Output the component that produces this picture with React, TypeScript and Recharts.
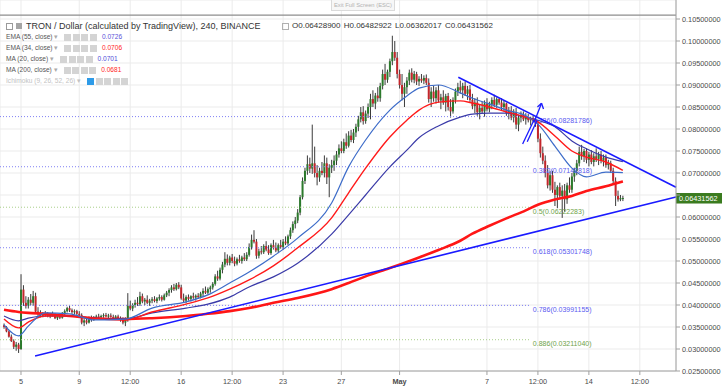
import React from 'react';
import { ComposedChart, Bar, Line, XAxis, YAxis, CartesianGrid, ReferenceLine } from 'recharts';

// TRXUSD 4h candles, [open, high, low, close] in units of 0.0001
// index 0 = Apr 5 00:00, one step = 4 hours
const aprilA = [
  [354, 358, 346, 350],
  [350, 352, 338, 340], [340, 342, 326, 328], [328, 333, 316, 318], [318, 322, 300, 305], [305, 316, 296, 310], [310, 314, 291, 300],
  [300, 470, 298, 435], [435, 445, 398, 405], [405, 420, 392, 398], [398, 418, 392, 412], [412, 425, 400, 405], [405, 432, 398, 420],
  [420, 428, 380, 385], [385, 395, 375, 380], [380, 388, 372, 376], [376, 384, 372, 380], [380, 386, 374, 378], [378, 384, 372, 375],
  [375, 382, 370, 379], [379, 385, 374, 376], [376, 381, 368, 370], [370, 378, 366, 374], [374, 380, 368, 371], [371, 384, 369, 382],
  [382, 390, 377, 386], [386, 396, 383, 393], [393, 398, 384, 388], [388, 392, 380, 384], [384, 390, 378, 386], [386, 389, 376, 380],
];
const aprilB = [
  [380, 386, 372, 377], [377, 381, 356, 360], [360, 368, 352, 365], [365, 372, 356, 360], [360, 374, 358, 370], [370, 376, 362, 366],
  [366, 375, 364, 372], [372, 378, 368, 374], [374, 380, 370, 373], [373, 378, 368, 375], [375, 381, 371, 377], [377, 382, 372, 374],
  [374, 380, 370, 376], [376, 381, 371, 373], [373, 378, 366, 370], [370, 377, 366, 374], [374, 378, 366, 368], [368, 374, 362, 366],
  [366, 372, 356, 360], [360, 372, 352, 368], [368, 427, 362, 398], [398, 410, 388, 392], [392, 404, 386, 400], [400, 412, 394, 405],
  [405, 418, 398, 402], [402, 430, 398, 420], [420, 426, 404, 408], [408, 416, 400, 412], [412, 422, 402, 405], [405, 414, 398, 410],
  [410, 418, 404, 413], [413, 420, 406, 409], [409, 418, 404, 415], [415, 424, 410, 418], [418, 422, 408, 412], [412, 426, 410, 422],
  [422, 432, 418, 428], [428, 438, 420, 434], [434, 445, 428, 440], [440, 448, 432, 436], [436, 450, 433, 446], [446, 452, 436, 440],
];
const aprilC = [
  [440, 446, 412, 415], [415, 426, 405, 410], [410, 422, 404, 418], [418, 424, 410, 414], [414, 422, 408, 420], [420, 428, 414, 417],
  [417, 424, 410, 421], [421, 427, 414, 418], [418, 430, 415, 426], [426, 438, 420, 432], [432, 442, 425, 428], [428, 440, 424, 436],
  [436, 444, 428, 440], [440, 452, 435, 448], [448, 470, 444, 465], [465, 478, 455, 460], [460, 485, 456, 480], [480, 498, 472, 492],
  [492, 520, 486, 505], [505, 515, 490, 496], [496, 512, 490, 508], [508, 516, 495, 500], [500, 510, 488, 494], [494, 508, 490, 504],
  [504, 514, 496, 500], [500, 512, 494, 508], [508, 518, 500, 504], [504, 520, 500, 514], [514, 540, 510, 532], [532, 560, 526, 548],
  [548, 570, 540, 544], [544, 550, 505, 512], [512, 528, 506, 522], [522, 534, 515, 520], [520, 538, 516, 534], [534, 545, 522, 526],
  [526, 536, 514, 518], [518, 540, 514, 536], [536, 548, 526, 530], [530, 542, 520, 524], [524, 540, 518, 536], [536, 548, 528, 532],
];
const aprilD = [
  [532, 550, 526, 544], [544, 556, 536, 540], [540, 560, 536, 556], [556, 576, 550, 570], [570, 590, 564, 584], [584, 600, 574, 592],
  [592, 618, 586, 610], [610, 650, 604, 645], [645, 690, 640, 682], [682, 712, 675, 705], [705, 740, 696, 720], [720, 735, 700, 710],
  [710, 810, 698, 722], [722, 760, 690, 700], [700, 718, 672, 690], [690, 712, 680, 705], [705, 725, 695, 700], [700, 740, 690, 722],
  [722, 735, 675, 690], [690, 720, 645, 712], [712, 730, 700, 718], [718, 740, 705, 728], [728, 750, 718, 742], [742, 765, 735, 756],
  [756, 772, 745, 750], [750, 778, 745, 770], [770, 790, 755, 762], [762, 795, 758, 785], [785, 798, 770, 775], [775, 800, 768, 792],
  [792, 812, 782, 805], [805, 830, 795, 822], [822, 850, 815, 838], [838, 852, 810, 818], [818, 842, 812, 835], [835, 858, 825, 850],
  [850, 880, 822, 868], [868, 888, 850, 858], [858, 882, 845, 876], [876, 895, 862, 870], [870, 905, 862, 898], [898, 935, 890, 925],
  [925, 948, 900, 912], [912, 935, 905, 930], [930, 960, 918, 954], [954, 1012, 945, 975], [975, 1000, 955, 962], [962, 975, 915, 925],
];
const mayA = [
  [925, 935, 892, 900], [900, 925, 865, 880], [880, 905, 850, 895], [895, 918, 880, 910], [910, 935, 900, 928], [928, 938, 906, 912],
  [912, 932, 904, 925], [925, 930, 900, 908], [908, 920, 898, 914], [914, 925, 905, 910], [910, 922, 902, 916], [916, 924, 900, 905],
  [905, 915, 860, 868], [868, 895, 850, 885], [885, 898, 862, 870], [870, 895, 858, 888], [888, 900, 860, 865], [865, 880, 845, 872],
  [872, 888, 855, 860], [860, 880, 840, 875], [875, 882, 842, 850], [850, 868, 826, 840], [840, 872, 835, 866], [866, 892, 858, 885],
  [885, 905, 875, 895], [895, 910, 880, 888], [888, 905, 870, 898], [898, 908, 875, 880], [880, 898, 866, 890], [890, 900, 860, 866],
  [866, 880, 845, 852], [852, 870, 836, 860], [860, 872, 830, 838], [838, 856, 822, 848], [848, 862, 835, 840], [840, 865, 828, 858],
  [858, 870, 840, 845], [845, 862, 838, 856], [856, 872, 845, 866], [866, 878, 850, 855], [855, 872, 848, 868], [868, 870, 855, 860],
  [860, 870, 842, 850], [850, 866, 840, 858], [858, 860, 830, 836],
];
const mayB = [
  [836, 850, 822, 842], [842, 852, 820, 826], [826, 845, 815, 838], [838, 848, 800, 810], [810, 832, 795, 826], [826, 840, 815, 832],
  [832, 840, 818, 822], [822, 836, 810, 828], [828, 834, 815, 820], [820, 828, 808, 825], [825, 830, 815, 818], [818, 826, 805, 812],
  [812, 818, 770, 778], [778, 790, 735, 745], [745, 760, 720, 728], [728, 740, 690, 700], [700, 718, 665, 672], [672, 705, 660, 695],
  [695, 705, 655, 662], [662, 680, 625, 650], [650, 672, 620, 668], [668, 678, 640, 648], [648, 672, 598, 660], [660, 675, 612, 640],
  [640, 678, 630, 672], [672, 690, 655, 662], [662, 700, 655, 692], [692, 712, 680, 705], [705, 730, 695, 722], [722, 760, 715, 748],
  [748, 764, 730, 738], [738, 755, 725, 750], [750, 756, 722, 730], [730, 748, 715, 742], [742, 752, 720, 725], [725, 745, 715, 738],
  [738, 756, 725, 732], [732, 748, 718, 742], [742, 750, 722, 728], [728, 742, 715, 735], [735, 742, 712, 718], [718, 730, 708, 722],
  [722, 728, 700, 705], [705, 712, 675, 682], [682, 690, 625, 648], [648, 660, 635, 640], [640, 650, 636, 643], [642.89, 648.2922, 636.2017, 643.1562],
];
const candleBlocks: [number, number[][]][] = [
  [-7, aprilA], [24, aprilB], [66, aprilC], [108, aprilD], [156, mayA], [201, mayB],
];

// moving averages at these candle indexes (same units)
const maIndex = [-7, -1, 3, 10, 20, 30, 43, 54, 68, 77, 86, 94, 104, 114, 128, 135, 142, 152, 159, 164, 172, 181, 186, 193, 200, 208, 213, 220, 227, 233, 241, 248];
const ma200 = [389, 384, 382, 380, 375, 370, 368, 370, 375, 380, 386, 393, 405, 416, 436, 450, 465, 484, 498, 508, 525, 546, 562, 580, 597, 615, 628, 640, 648, 659, 670, 681];
const ema55 = [375, 364, 370, 375, 375, 370, 368, 382, 393, 402, 418, 441, 464, 495, 561, 605, 650, 714, 752, 780, 807, 827, 834, 836, 836, 827, 820, 805, 773, 755, 736, 726];
const ema34 = [368, 348, 361, 375, 375, 370, 366, 384, 402, 416, 436, 457, 489, 530, 598, 655, 711, 782, 820, 843, 861, 864, 859, 850, 839, 827, 816, 784, 750, 736, 725, 706];
const ma20 = [355, 330, 352, 382, 380, 366, 368, 393, 407, 423, 450, 475, 511, 552, 632, 714, 775, 843, 875, 893, 900, 882, 870, 857, 843, 830, 811, 761, 711, 691, 702, 701];

const dayTicks = [0, 24, 45, 66, 87, 108, 132, 156, 192, 213, 234, 255];
const dayLabels = ['5', '9', '12:00', '16', '12:00', '23', '27', 'May', '7', '12:00', '14', '12:00'];
const priceTicks = [0.025, 0.03, 0.035, 0.04, 0.045, 0.05, 0.055, 0.06, 0.065, 0.07, 0.075, 0.08, 0.085, 0.09, 0.095, 0.1, 0.105];

const fibRatios = ['0.236', '0.382', '0.5', '0.618', '0.786', '0.886'];
const fibPrices = [0.08281786, 0.07142818, 0.06222283, 0.05301748, 0.03991155, 0.0321104];
const fibEnd = 210.1;

// drawn trend lines [index, price]
const supportLine = [[5.8, 0.0284], [269.9, 0.06455]];
const resistanceLine = [[180.2, 0.09175], [269.9, 0.06677]];
const arrowStrokes = [
  [[206.7, 0.07659], [211.4, 0.08205]],
  [[208.6, 0.07711], [212.7, 0.08205]],
  [[211.5, 0.08166], [214.5, 0.08584]],
  [[214.5, 0.08584], [212.8, 0.085]],
  [[214.5, 0.08584], [215.3, 0.08455]],
];

const legendRows = [
  { name: 'EMA (55, close)', value: '0.0726', color: '#5a52d8' },
  { name: 'EMA (34, close)', value: '0.0706', color: '#ff1e1e' },
  { name: 'MA (20, close)', value: '0.0701', color: '#4d4ed8' },
  { name: 'MA (200, close)', value: '0.0681', color: '#ff1e1e' },
];

const xMin = -8.65;
const xMax = 269.9;
const yMin = 0.025;
const yMax = 0.10932;
const paneTop = 0.1059;

const rows: any[] = candleBlocks.flatMap(([start, list]) =>
  list.map((c, k) => ({ t: start + k, o: c[0] / 1e4, h: c[1] / 1e4, l: c[2] / 1e4, c: c[3] / 1e4 }))
);
maIndex.forEach((t, k) => {
  const r = rows.find((d) => d.t === t);
  if (!r) return;
  r.ma200 = ma200[k] / 1e4;
  r.ema55 = ema55[k] / 1e4;
  r.ema34 = ema34[k] / 1e4;
  r.ma20 = ma20[k] / 1e4;
});
const last = rows[rows.length - 1];

const FONT = '"Liberation Sans", Arial, sans-serif';

function Candle(props: any) {
  const { x, y, width, height, payload } = props;
  if (!payload || y == null) return null;
  const top = Math.min(y, y + height);
  const bot = Math.max(y, y + height);
  const cx = x + width / 2;
  const span = payload.h - payload.l || 1e-9;
  const py = (v: number) => top + ((payload.h - v) / span) * (bot - top);
  const up = payload.c >= payload.o;
  const b1 = py(Math.max(payload.o, payload.c));
  const b2 = py(Math.min(payload.o, payload.c));
  return (
    <g>
      <rect x={cx - 0.5} y={top} width={1} height={Math.max(bot - top, 1)} fill="#3b3b3b" />
      <rect x={cx - 1} y={b1} width={2} height={Math.max(b2 - b1, 1)} fill={up ? '#2c7a2c' : '#c4262b'} />
    </g>
  );
}

function FibTag({ viewBox, text, color }: any) {
  if (!viewBox) return null;
  return (
    <text x={viewBox.x + viewBox.width + 2} y={viewBox.y + 6.5} fontSize={7} fill={color}>
      {text}
    </text>
  );
}

function PriceTag({ viewBox }: any) {
  if (!viewBox) return null;
  const x = viewBox.x + viewBox.width;
  const y = viewBox.y;
  return (
    <g>
      <rect x={x} y={y - 5} width={46} height={10.5} fill="#3a7b1f" />
      <text x={x + 3} y={y + 2.7} fontSize={7.3} fill="#ffffff">
        {last.c.toFixed(8)}
      </text>
    </g>
  );
}

function DayTick({ x, y, payload }: any) {
  const label = dayLabels[dayTicks.indexOf(payload.value)];
  return (
    <text x={x} y={y + 7} textAnchor="middle" fontSize={7.3} fill="#4a4a4a" fontWeight={label === 'May' ? 700 : 400}>
      {label}
    </text>
  );
}

// the last-price tag sits on top of the 0.065 label, so that one is left blank
const priceLabel = (v: number) => (Math.abs(v - last.c) < 0.002 ? '' : v.toFixed(8));

function IconBoxes({ n, first }: { n: number; first?: string }) {
  return (
    <span style={{ display: 'inline-flex', gap: 1.5, marginLeft: 6, verticalAlign: 'middle' }}>
      {Array.from({ length: n }, (_, k) => (
        <span
          key={k}
          style={{ width: 7, height: 7, background: k === 0 && first ? first : '#d4d4d4', display: 'inline-block' }}
        />
      ))}
    </span>
  );
}

export default function App() {
  const fibColor = (r: string) => (r === '0.5' || r === '0.886' ? '#6fa34a' : '#5a5af0');
  const fibStroke = (r: string) => (r === '0.5' || r === '0.886' ? '#a9cf8a' : '#8080f4');

  return (
    <div style={{ position: 'absolute', left: 0, top: 0, width: 726, height: 390, background: '#fff', fontFamily: FONT, overflow: 'hidden' }}>
      <ComposedChart width={726} height={390} data={rows} margin={{ top: 0, right: 0, bottom: 0, left: 0 }} style={{ fontFamily: FONT }}>
        <CartesianGrid stroke="#ebebeb" />
        <XAxis
          type="number"
          dataKey="t"
          domain={[xMin, xMax]}
          allowDataOverflow
          ticks={dayTicks}
          interval={0}
          height={19}
          tickSize={4}
          tick={<DayTick />}
          axisLine={{ stroke: '#a0a0a0' }}
          tickLine={{ stroke: '#a0a0a0' }}
        />
        <YAxis
          orientation="right"
          width={50}
          domain={[yMin, yMax]}
          allowDataOverflow
          ticks={priceTicks}
          interval={0}
          tickSize={4}
          tickFormatter={priceLabel}
          tick={{ fontSize: 7.3, fill: '#4a4a4a' }}
          axisLine={{ stroke: '#a0a0a0' }}
          tickLine={{ stroke: '#a0a0a0' }}
        />
        {fibRatios.map((r, k) => (
          <ReferenceLine
            key={r}
            segment={[{ x: xMin, y: fibPrices[k] }, { x: fibEnd, y: fibPrices[k] }]}
            stroke={fibStroke(r)}
            strokeDasharray="1 2"
            ifOverflow="visible"
            label={<FibTag text={`${r}(${fibPrices[k].toFixed(8)})`} color={fibColor(r)} />}
          />
        ))}
        <Bar dataKey={(d: any) => [d.l, d.h]} shape={(p: any) => <Candle {...p} />} isAnimationActive={false} />
        <Line dataKey="ma200" type="monotone" stroke="#ff1616" strokeWidth={2.6} dot={false} activeDot={false} connectNulls isAnimationActive={false} />
        <Line dataKey="ema55" type="monotone" stroke="#3a3aa8" strokeWidth={1.2} dot={false} activeDot={false} connectNulls isAnimationActive={false} />
        <Line dataKey="ema34" type="monotone" stroke="#ff1a1a" strokeWidth={1.4} dot={false} activeDot={false} connectNulls isAnimationActive={false} />
        <Line dataKey="ma20" type="monotone" stroke="#3d6cc9" strokeWidth={1.2} dot={false} activeDot={false} connectNulls isAnimationActive={false} />
        {[supportLine, resistanceLine].map((ln, k) => (
          <ReferenceLine
            key={`tl${k}`}
            segment={[{ x: ln[0][0], y: ln[0][1] }, { x: ln[1][0], y: ln[1][1] }]}
            stroke="#1a1aff"
            strokeWidth={1.6}
            ifOverflow="visible"
          />
        ))}
        {arrowStrokes.map((s, k) => (
          <ReferenceLine
            key={`ar${k}`}
            segment={[{ x: s[0][0], y: s[0][1] }, { x: s[1][0], y: s[1][1] }]}
            stroke="#1a1aff"
            strokeWidth={1.3}
            ifOverflow="visible"
          />
        ))}
        <ReferenceLine y={paneTop} stroke="#8e8e8e" strokeWidth={1.2} />
        <ReferenceLine y={last.c} stroke="none" label={<PriceTag />} />
      </ComposedChart>

      <div style={{ position: 'absolute', left: 331, top: -1, width: 62, height: 10, border: '1px solid #dadada', background: '#f7f7f7', fontSize: 5.8, lineHeight: '10px', color: '#b3b3b3', textAlign: 'center' }}>
        Exit Full Screen (ESC)
      </div>

      <div style={{ position: 'absolute', left: 6, top: 23, width: 5, height: 5, border: '1px solid #9a9a9a' }} />
      <div style={{ position: 'absolute', left: 16, top: 23, width: 6, height: 6, background: '#a5a5a5' }} />
      <div style={{ position: 'absolute', left: 26, top: 20, fontSize: 9, lineHeight: '12px', color: '#333', whiteSpace: 'nowrap' }}>
        TRON / Dollar (calculated by TradingView), 240, BINANCE
      </div>
      <div style={{ position: 'absolute', left: 282, top: 23, width: 5, height: 5, border: '1px solid #b0b0b0' }} />
      <div style={{ position: 'absolute', left: 292, top: 20, fontSize: 8, lineHeight: '12px', color: '#333', whiteSpace: 'nowrap', wordSpacing: 1 }}>
        O0.06428900 H0.06482922 L0.06362017 C0.06431562
      </div>

      {legendRows.map((r, k) => (
        <div key={r.name} style={{ position: 'absolute', left: 6, top: 32 + k * 11, fontSize: 6.6, lineHeight: '10px', color: '#555', whiteSpace: 'nowrap' }}>
          {r.name} <span style={{ color: '#aaa' }}>▾</span>
          <IconBoxes n={4} />
          <span style={{ color: r.color, marginLeft: 5 }}>{r.value}</span>
        </div>
      ))}
      <div style={{ position: 'absolute', left: 6, top: 76, fontSize: 6.6, lineHeight: '10px', color: '#c2c2c2', whiteSpace: 'nowrap' }}>
        Ichimoku (9, 26, 52, 26) <span>▾</span>
        <IconBoxes n={5} first="#2e9be8" />
      </div>
    </div>
  );
}
